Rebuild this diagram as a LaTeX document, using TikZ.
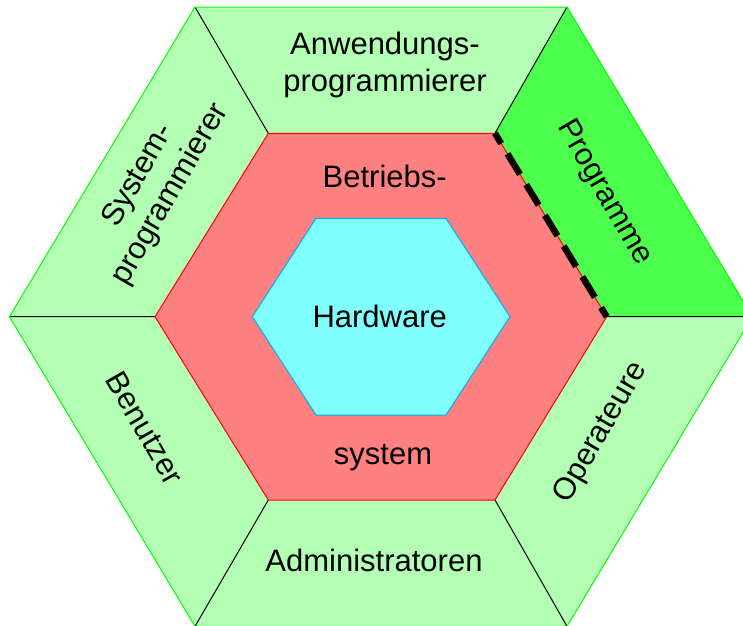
\documentclass[tikz,border=0pt]{standalone}
\usepackage{fontspec}
\setmainfont{Liberation Sans}
\definecolor{segGreen}{RGB}{179,255,179}
\definecolor{progGreen}{RGB}{77,255,77}
\definecolor{osRed}{RGB}{255,128,128}
\definecolor{hwCyan}{RGB}{128,255,255}
\begin{document}
\begin{tikzpicture}[x=1pt,y=-1pt,
  lbl/.style={font=\fontsize{31}{37}\selectfont, inner sep=0pt, align=center},
  divider/.style={draw=black, line width=1pt},
  hexborder/.style={line width=1pt, line join=miter}]
\useasboundingbox (0,0) rectangle (743,625);
% outer hexagon
\coordinate (O1) at (195,7);
\coordinate (O2) at (567,7);
\coordinate (O3) at (752.5,316.7);
\coordinate (O4) at (567,626.4);
\coordinate (O5) at (195,626.4);
\coordinate (O6) at (9.5,316.7);
% middle hexagon
\coordinate (M1) at (268.3,133.3);
\coordinate (M2) at (495,133.3);
\coordinate (M3) at (606.7,316.7);
\coordinate (M4) at (495,500);
\coordinate (M5) at (268.3,500);
\coordinate (M6) at (155,316.7);
% inner hexagon
\coordinate (H1) at (316,218.3);
\coordinate (H2) at (446,218.3);
\coordinate (H3) at (510,316.7);
\coordinate (H4) at (446,415);
\coordinate (H5) at (316,415);
\coordinate (H6) at (252.3,316.7);
\begin{scope}
\clip (0,0) rectangle (743,625);
\fill[segGreen] (O1)--(O2)--(O3)--(O4)--(O5)--(O6)--cycle;
\fill[progGreen] (O2)--(O3)--(M3)--(M2)--cycle;
\draw[divider] (O1)--(M1) (O2)--(M2) (O3)--(M3) (O4)--(M4) (O5)--(M5) (O6)--(M6);
\draw[hexborder, draw=green] (O1)--(O2)--(O3)--(O4)--(O5)--(O6)--cycle;
\filldraw[hexborder, fill=osRed, draw=red] (M1)--(M2)--(M3)--(M4)--(M5)--(M6)--cycle;
\filldraw[hexborder, fill=hwCyan, draw=cyan] (H1)--(H2)--(H3)--(H4)--(H5)--(H6)--cycle;
\draw[black, line width=6.5pt, dash pattern=on 24pt off 12pt, dash phase=12pt] (M2)--(M3);
\end{scope}
% labels
\node[lbl] (anw) at (385,65) {Anwendungs-\\programmierer};
\node[lbl, rotate=60] (sys) at (155,185) {System-\\programmierer};
\node[lbl, rotate=-60] (prog) at (604,193) {Programme};
\node[lbl, rotate=-60] (ben) at (145,428) {Benutzer};
\node[lbl, rotate=60] (ope) at (601,433) {Operateure};
\node[lbl, anchor=base] (betr) at (384.7,187.7) {Betriebs-};
\node[lbl, anchor=base] (hw) at (379.7,327.7) {Hardware};
\node[lbl, anchor=base] (syst) at (383,464.3) {system};
\node[lbl, anchor=base] (adm) at (374,571.7) {Administratoren};
\end{tikzpicture}
\end{document}
